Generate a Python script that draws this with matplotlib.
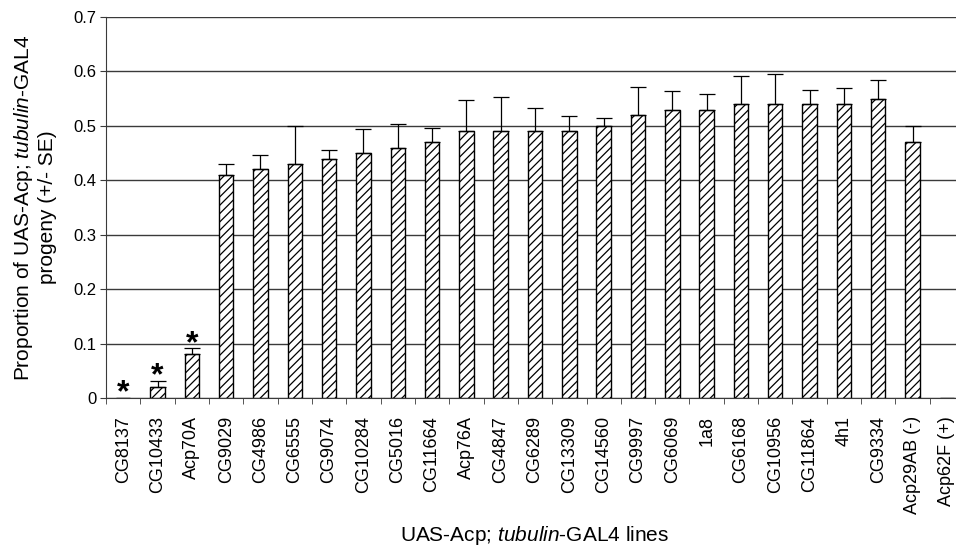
import matplotlib.pyplot as plt
import numpy as np

plt.rcParams['font.family'] = ['Liberation Sans', 'DejaVu Sans']
plt.rcParams['mathtext.fontset'] = 'custom'
plt.rcParams['mathtext.rm'] = 'Liberation Sans'
plt.rcParams['mathtext.it'] = 'Liberation Sans:italic'
plt.rcParams['hatch.linewidth'] = 0.9

lines = ["CG8137", "CG10433", "Acp70A", "CG9029", "CG4986", "CG6555", "CG9074",
         "CG10284", "CG5016", "CG11664", "Acp76A", "CG4847", "CG6289", "CG13309",
         "CG14560", "CG9997", "CG6069", "1a8", "CG6168", "CG10956", "CG11864",
         "4h1", "CG9334", "Acp29AB (-)", "Acp62F (+)"]
proportion = [0.0, 0.02, 0.08, 0.41, 0.42, 0.43, 0.44, 0.45, 0.46, 0.47, 0.49,
              0.49, 0.49, 0.49, 0.50, 0.52, 0.53, 0.53, 0.54, 0.54, 0.54, 0.54,
              0.55, 0.47, 0.0]
se = [0.0, 0.011, 0.011, 0.02, 0.027, 0.07, 0.015, 0.045, 0.044, 0.027, 0.057,
      0.064, 0.043, 0.029, 0.015, 0.051, 0.034, 0.029, 0.052, 0.055, 0.026,
      0.03, 0.035, 0.03, 0.0]
significant = ["CG8137", "CG10433", "Acp70A"]

x = np.arange(len(lines))
fig = plt.figure(figsize=(9.56, 5.48), dpi=100)
ax = fig.add_axes([0.1109, 0.2737, 0.8975, 0.6952])

ax.set_axisbelow(True)
ax.yaxis.grid(True, color='#3a3a3a', linewidth=1.0)
ax.bar(x, proportion, width=0.42, color='white', edgecolor='black',
       linewidth=1.0, hatch='////')
has_err = np.array(se) > 0
ax.errorbar(x[has_err], np.array(proportion)[has_err],
            yerr=[np.zeros(has_err.sum()), np.array(se)[has_err]],
            fmt='none', ecolor='black', elinewidth=0.9, capsize=5.5, capthick=0.9)

# significance stars just above the error bars
for name in significant:
    i = lines.index(name)
    ax.text(i, proportion[i] + se[i] - 0.006, '*', ha='center', va='baseline',
            fontsize=23, fontweight='bold', clip_on=False)

ax.set_xlim(-0.5, len(lines) - 0.5)
ax.set_ylim(0, 0.7)
ax.set_yticks(np.arange(0, 0.71, 0.1))
ax.set_yticklabels(['0'] + ['%.1f' % v for v in np.arange(0.1, 0.71, 0.1)], fontsize=12)
ax.set_xticks(x)
ax.set_xticklabels(lines, rotation=90, fontsize=13)
ax.set_xticks(np.arange(-0.5, len(lines)), minor=True)
ax.tick_params(axis='x', which='major', length=0, pad=13)
ax.tick_params(axis='x', which='minor', length=4, direction='out', color='#3a3a3a')
ax.tick_params(axis='y', length=4, direction='out', color='#3a3a3a', pad=3)

for s in ['top', 'right']:
    ax.spines[s].set_visible(False)
ax.spines['left'].set_color('#3a3a3a')
ax.spines['bottom'].set_color('#3a3a3a')

ax.set_ylabel("Proportion of UAS-Acp; $\\it{tubulin}$-GAL4\nprogeny (+/- SE)",
              fontsize=15, linespacing=1.2)
ax.yaxis.set_label_coords(-0.057, 0.5)
ax.set_xlabel("UAS-Acp; $\\it{tubulin}$-GAL4 lines", fontsize=15, va='top')
ax.xaxis.set_label_coords(0.5, -0.332)

fig.savefig("out.png", dpi=100)
